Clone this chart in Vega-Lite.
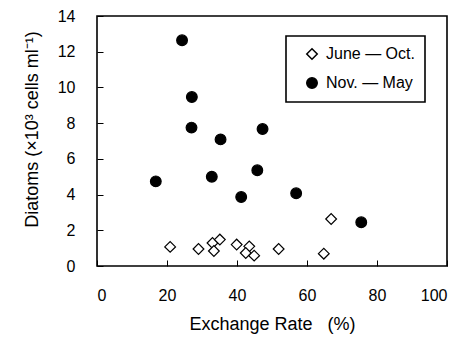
{
  "$schema": "https://vega.github.io/schema/vega-lite/v6.json",
  "width": 350,
  "height": 250,
  "autosize": {"type": "none"},
  "padding": {"left": 97, "top": 16, "right": 19, "bottom": 72},
  "background": "white",
  "config": {
    "font": "Liberation Sans",
    "view": {"stroke": "black", "strokeWidth": 1.6},
    "axis": {
      "grid": false,
      "domain": false,
      "ticks": true,
      "tickColor": "black",
      "tickWidth": 1,
      "tickSize": 6,
      "offset": -6,
      "labelColor": "black",
      "labelFontSize": 16,
      "labelFont": "Liberation Sans",
      "titleFont": "Liberation Sans",
      "titleFontSize": 18,
      "titleFontWeight": "normal",
      "titleColor": "black"
    },
    "legend": {
      "labelFontSize": 16,
      "labelFont": "Liberation Sans",
      "labelColor": "black",
      "strokeColor": "black",
      "strokeWidth": 1.6,
      "fillColor": "white"
    }
  },
  "data": {
    "values": [
      {"season": "Nov. — May", "rate": 16.8, "diatoms": 4.74},
      {"season": "Nov. — May", "rate": 24.3, "diatoms": 12.64},
      {"season": "Nov. — May", "rate": 27.1, "diatoms": 9.46},
      {"season": "Nov. — May", "rate": 27.0, "diatoms": 7.75},
      {"season": "Nov. — May", "rate": 35.3, "diatoms": 7.09},
      {"season": "Nov. — May", "rate": 47.3, "diatoms": 7.67},
      {"season": "Nov. — May", "rate": 32.8, "diatoms": 5.0},
      {"season": "Nov. — May", "rate": 45.8, "diatoms": 5.36},
      {"season": "Nov. — May", "rate": 41.2, "diatoms": 3.86},
      {"season": "Nov. — May", "rate": 56.9, "diatoms": 4.07},
      {"season": "Nov. — May", "rate": 75.5, "diatoms": 2.45},
      {"season": "June — Oct.", "rate": 20.9, "diatoms": 1.07},
      {"season": "June — Oct.", "rate": 29.0, "diatoms": 0.95},
      {"season": "June — Oct.", "rate": 33.0, "diatoms": 1.29},
      {"season": "June — Oct.", "rate": 35.1, "diatoms": 1.48},
      {"season": "June — Oct.", "rate": 33.4, "diatoms": 0.84},
      {"season": "June — Oct.", "rate": 39.9, "diatoms": 1.2},
      {"season": "June — Oct.", "rate": 43.5, "diatoms": 1.1},
      {"season": "June — Oct.", "rate": 42.5, "diatoms": 0.73},
      {"season": "June — Oct.", "rate": 44.9, "diatoms": 0.58},
      {"season": "June — Oct.", "rate": 51.9, "diatoms": 0.95},
      {"season": "June — Oct.", "rate": 64.8, "diatoms": 0.69},
      {"season": "June — Oct.", "rate": 66.9, "diatoms": 2.63}
    ]
  },
  "mark": {"type": "point", "filled": true, "stroke": "black", "strokeWidth": 1.2, "size": 115, "opacity": 1},
  "encoding": {
    "x": {
      "field": "rate",
      "type": "quantitative",
      "scale": {"domain": [0, 100], "nice": false, "zero": false},
      "axis": {
        "values": [0, 20, 40, 60, 80, 100],
        "labelPadding": 21,
        "title": "Exchange Rate\u00a0\u00a0 (%)",
        "titleY": 55,
        "titleBaseline": "top"
      }
    },
    "y": {
      "field": "diatoms",
      "type": "quantitative",
      "scale": {"domain": [0, 14], "nice": false, "zero": false},
      "axis": {
        "values": [0, 2, 4, 6, 8, 10, 12, 14],
        "labelPadding": 22,
        "title": "Diatoms (×10³ cells ml⁻¹)",
        "titleX": -62,
        "titleY": 113
      }
    },
    "shape": {
      "field": "season",
      "type": "nominal",
      "scale": {"domain": ["June — Oct.", "Nov. — May"], "range": ["diamond", "circle"]},
      "legend": {
        "title": null,
        "orient": "none",
        "legendX": 189,
        "legendY": 20,
        "padding": 10,
        "rowPadding": 11,
        "symbolOffset": 8,
        "labelOffset": 6,
        "symbolSize": 110,
        "labelLimit": 300,
        "encode": {
          "symbols": {"update": {"stroke": {"value": "black"}, "strokeWidth": {"value": 1.2}}}
        }
      }
    },
    "fill": {
      "field": "season",
      "type": "nominal",
      "scale": {"domain": ["June — Oct.", "Nov. — May"], "range": ["white", "black"]},
      "legend": {
        "title": null,
        "orient": "none",
        "legendX": 189,
        "legendY": 20,
        "padding": 10,
        "rowPadding": 11,
        "symbolOffset": 8,
        "labelOffset": 6,
        "symbolSize": 110,
        "labelLimit": 300,
        "encode": {
          "symbols": {"update": {"stroke": {"value": "black"}, "strokeWidth": {"value": 1.2}}}
        }
      }
    }
  }
}
